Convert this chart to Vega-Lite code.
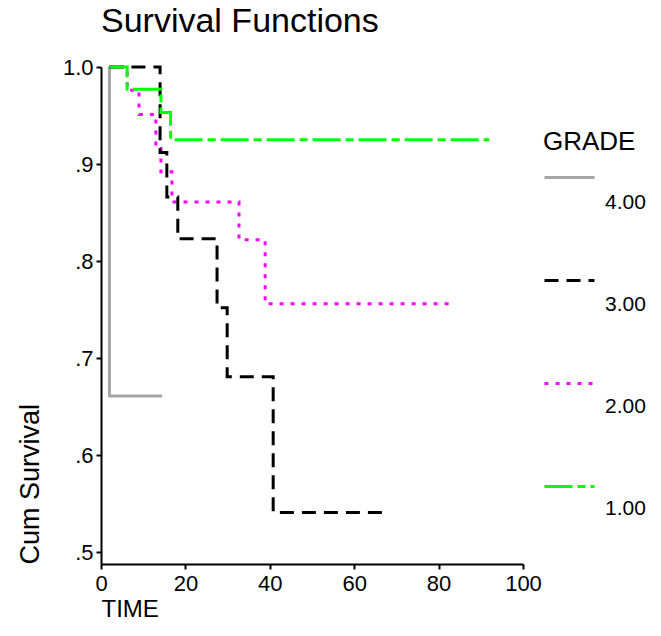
{
  "$schema": "https://vega.github.io/schema/vega-lite/v6.json",
  "width": 422,
  "height": 497,
  "autosize": {"type": "none"},
  "padding": {"left": 101, "top": 67, "right": 138, "bottom": 72},
  "background": "white",
  "title": {
    "text": "Survival Functions",
    "anchor": "start",
    "frame": "group",
    "font": "Liberation Sans",
    "fontSize": 34,
    "fontWeight": "normal",
    "color": "black",
    "offset": 17
  },
  "data": {
    "values": [
      {"grade": "4.00", "time": 2, "surv": 1.0},
      {"grade": "4.00", "time": 2, "surv": 0.661},
      {"grade": "4.00", "time": 14.5, "surv": 0.661},
      {"grade": "2.00", "time": 2, "surv": 1.0},
      {"grade": "2.00", "time": 6.2, "surv": 0.976},
      {"grade": "2.00", "time": 9.0, "surv": 0.951},
      {"grade": "2.00", "time": 13.0, "surv": 0.916},
      {"grade": "2.00", "time": 14.2, "surv": 0.892},
      {"grade": "2.00", "time": 16.8, "surv": 0.861},
      {"grade": "2.00", "time": 32.7, "surv": 0.822},
      {"grade": "2.00", "time": 38.9, "surv": 0.756},
      {"grade": "2.00", "time": 82.7, "surv": 0.756},
      {"grade": "3.00", "time": 2, "surv": 1.0},
      {"grade": "3.00", "time": 14.0, "surv": 0.912},
      {"grade": "3.00", "time": 15.6, "surv": 0.866},
      {"grade": "3.00", "time": 18.2, "surv": 0.823},
      {"grade": "3.00", "time": 27.5, "surv": 0.752},
      {"grade": "3.00", "time": 29.9, "surv": 0.681},
      {"grade": "3.00", "time": 40.8, "surv": 0.541},
      {"grade": "3.00", "time": 67.8, "surv": 0.541},
      {"grade": "1.00", "time": 2, "surv": 1.0},
      {"grade": "1.00", "time": 6.2, "surv": 0.977},
      {"grade": "1.00", "time": 14.2, "surv": 0.953},
      {"grade": "1.00", "time": 16.5, "surv": 0.925},
      {"grade": "1.00", "time": 92, "surv": 0.925}
    ]
  },
  "mark": {"type": "line", "interpolate": "step-after", "strokeWidth": 3},
  "encoding": {
    "x": {
      "field": "time",
      "type": "quantitative",
      "scale": {"domain": [0, 100], "nice": false},
      "axis": {
        "title": "TIME",
        "values": [0, 20, 40, 60, 80, 100],
        "titleAnchor": "start",
        "titleAlign": "left",
        "titlePadding": 3,
        "labelPadding": 4,
        "labelFlush": false
      }
    },
    "y": {
      "field": "surv",
      "type": "quantitative",
      "scale": {"domain": [0.488, 1.0], "nice": false, "zero": false},
      "axis": {
        "title": "Cum Survival",
        "values": [0.5, 0.6, 0.7, 0.8, 0.9, 1.0],
        "labelExpr": "datum.value >= 0.999 ? '1.0' : replace(format(datum.value, '.1f'), '0.', '.')",
        "titleAnchor": "start",
        "titleAlign": "left",
        "titlePadding": 18,
        "labelPadding": 3,
        "titleFontSize": 27
      }
    },
    "order": [
      {"field": "time", "type": "quantitative"},
      {"field": "surv", "type": "quantitative", "sort": "descending"}
    ],
    "color": {
      "field": "grade",
      "type": "nominal",
      "sort": "descending",
      "scale": {
        "range": ["#a6a6a6", "#000000", "#ff00ff", "#00ff00"]
      },
      "legend": {
        "title": "GRADE",
        "orient": "none",
        "legendX": 442,
        "legendY": 62,
        "labelExpr": "''",
        "titlePadding": -4,
        "rowPadding": 66
      }
    },
    "strokeDash": {
      "field": "grade",
      "type": "nominal",
      "sort": "descending",
      "scale": {
        "range": [[1, 0], [14, 8], [4, 7], [28, 5, 8, 5]]
      },
      "legend": {
        "title": "GRADE",
        "orient": "none",
        "legendX": 442,
        "legendY": 62,
        "labelExpr": "''",
        "titlePadding": -4,
        "rowPadding": 66
      }
    },
    "opacity": {
      "field": "grade",
      "type": "ordinal",
      "scale": {
        "domain": ["4.00", "3.00", "2.00", "1.00"],
        "range": [1, 1, 1, 1]
      },
      "legend": {
        "title": null,
        "orient": "none",
        "legendX": 442,
        "legendY": 109,
        "symbolOpacity": 0,
        "symbolStrokeColor": "transparent",
        "symbolFillColor": "transparent",
        "rowPadding": 65,
        "labelOffset": 9
      }
    }
  },
  "config": {
    "view": {"stroke": null},
    "axis": {
      "grid": false,
      "domainColor": "black",
      "domainWidth": 2,
      "tickColor": "black",
      "tickWidth": 2,
      "tickSize": 5,
      "labelFont": "Liberation Sans",
      "labelFontSize": 22,
      "labelColor": "black",
      "titleFont": "Liberation Sans",
      "titleFontSize": 24,
      "titleFontWeight": "normal",
      "titleColor": "black"
    },
    "legend": {
      "padding": 0,
      "titleFont": "Liberation Sans",
      "titleFontSize": 26,
      "titleFontWeight": "normal",
      "titleColor": "black",
      "symbolType": "stroke",
      "symbolSize": 2500,
      "symbolStrokeWidth": 3,
      "labelFont": "Liberation Sans",
      "labelFontSize": 21,
      "labelColor": "black",
      "labelOffset": 12
    }
  }
}
